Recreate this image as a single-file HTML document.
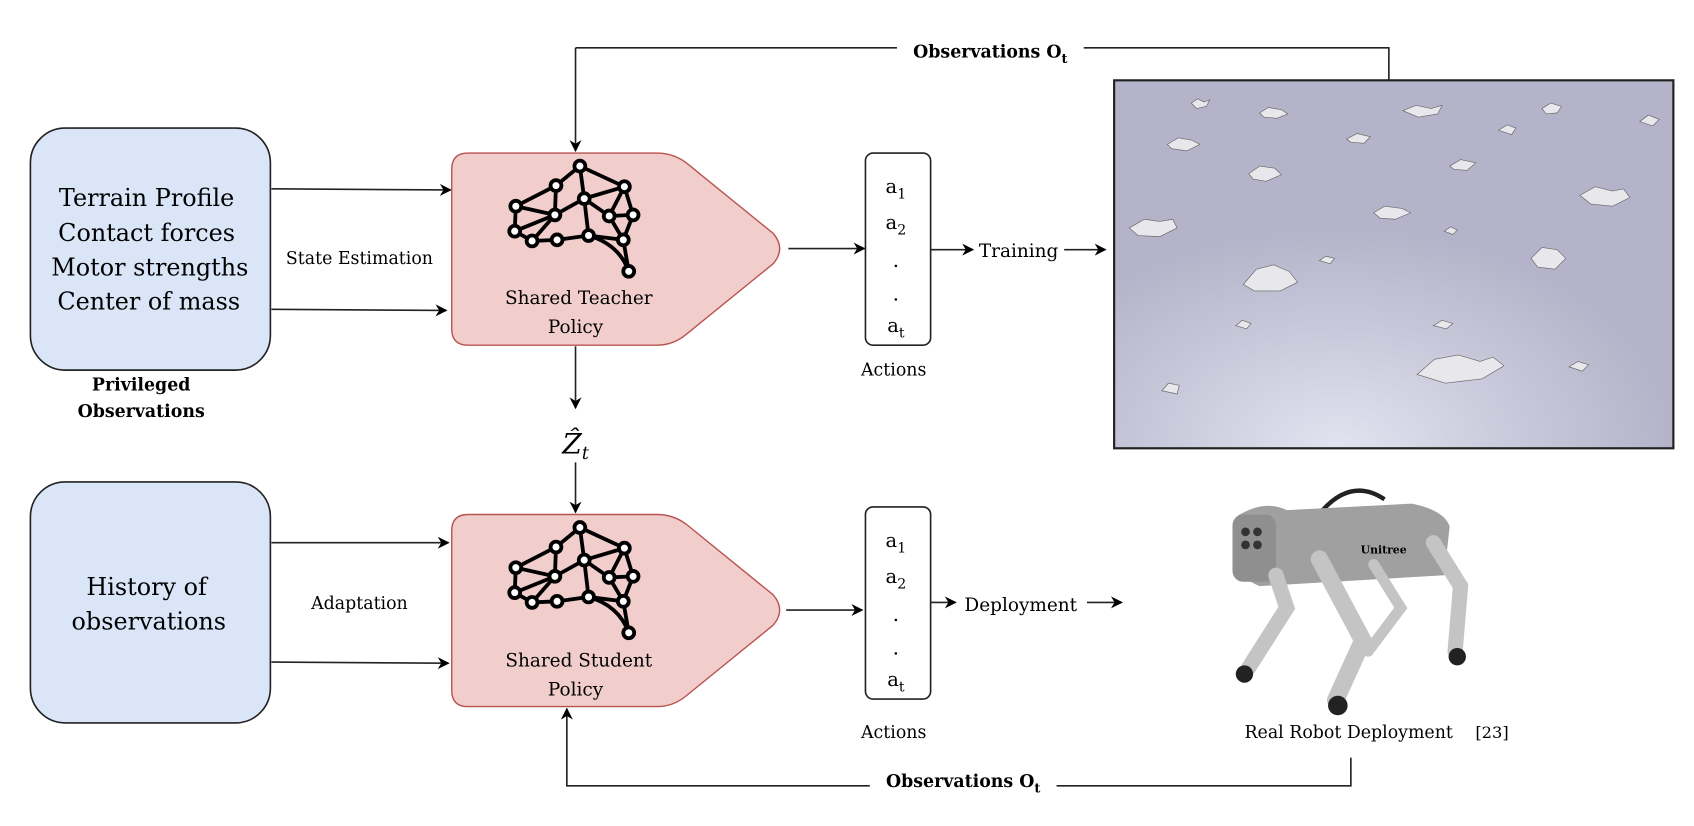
<!DOCTYPE html>
<html><head><meta charset="utf-8"><style>
html,body{margin:0;padding:0;background:#fff}
svg{display:block}
text{font-family:"DejaVu Serif","Liberation Serif",serif;fill:#000}
</style></head><body>
<svg width="1694" height="826" viewBox="0 0 1560 761" preserveAspectRatio="none" xmlns="http://www.w3.org/2000/svg">
<defs>
<marker id="ar" viewBox="0 0 10 10" refX="9" refY="5" markerWidth="12" markerHeight="11" orient="auto" markerUnits="userSpaceOnUse"><path d="M0,0 L10,5 L0,10 L3,5 z" fill="#000"/></marker>
<radialGradient id="tg" cx="0.4" cy="1" r="0.6"><stop offset="0" stop-color="#e2e2f0"/><stop offset="1" stop-color="#b4b3c9"/></radialGradient>
<g id="brain" fill="none" stroke="#000" stroke-width="3.5">
<path d="M534,153 L512,171 L475,190 L474,213 L490,222 L513,221 L542,217 L574,221 L579,250 M534,153 L538,183 L575,172 L583,198 L574,221 M512,171 L511,198 L475,190 M511,198 L538,183 L561,199 L575,172 M511,198 L474,213 M511,198 L490,222 M538,183 L542,217 M561,199 L583,198 M561,199 L574,221 M534,153 L575,172"/>
<path d="M542,217 Q570,225 579,250"/>
<g fill="#fff" stroke-width="3.5"><circle cx="534" cy="153" r="5"/><circle cx="512" cy="171" r="5"/><circle cx="475" cy="190" r="5"/><circle cx="538" cy="183" r="5"/><circle cx="575" cy="172" r="5"/><circle cx="511" cy="198" r="5"/><circle cx="561" cy="199" r="5"/><circle cx="583" cy="198" r="5"/><circle cx="474" cy="213" r="5"/><circle cx="490" cy="222" r="5"/><circle cx="513" cy="221" r="5"/><circle cx="542" cy="217" r="5"/><circle cx="574" cy="221" r="5"/><circle cx="579" cy="250" r="5"/></g>
</g>
</defs>

<rect x="28" y="118" width="221" height="223" rx="32" fill="#dae6f8" stroke="#222" stroke-width="1.5"/>
<g font-size="22" text-anchor="middle">
<text x="135" y="190">Terrain Profile</text>
<text x="135" y="222">Contact forces</text>
<text x="138" y="254">Motor strengths</text>
<text x="137" y="285">Center of mass</text>
</g>
<text x="130" y="360" font-size="16" font-weight="bold" text-anchor="middle">Privileged</text>
<text x="130" y="384" font-size="16" font-weight="bold" text-anchor="middle">Observations</text>

<rect x="28" y="444" width="221" height="222" rx="32" fill="#dae6f8" stroke="#222" stroke-width="1.5"/>
<text x="135" y="548" font-size="22" text-anchor="middle">History of</text>
<text x="137" y="580" font-size="22" text-anchor="middle">observations</text>

<g stroke="#222" stroke-width="1.5" fill="none" marker-end="url(#ar)">
<path d="M250,174 L415,175"/><path d="M250,285 L411,286"/>
<path d="M250,500 L413,500"/><path d="M250,610 L413,611"/>
</g>
<text x="331" y="243" font-size="16" text-anchor="middle">State Estimation</text>
<text x="331" y="561" font-size="16" text-anchor="middle">Adaptation</text>

<path d="M431,141 L605,141 Q620,141 632,150 L712,215 Q724,229 712,243 L632,308 Q620,318 605,318 L431,318 Q416,318 416,303 L416,156 Q416,141 431,141 Z" fill="#f1cecc" stroke="#b85450" stroke-width="1.3"/>
<path d="M431,474 L605,474 Q620,474 632,483 L712,548 Q724,562 712,576 L632,641 Q620,651 605,651 L431,651 Q416,651 416,636 L416,489 Q416,474 431,474 Z" fill="#f1cecc" stroke="#b85450" stroke-width="1.3"/>
<use href="#brain"/>
<use href="#brain" y="333"/>
<text x="533" y="280" font-size="17" text-anchor="middle">Shared Teacher</text>
<text x="530" y="307" font-size="17" text-anchor="middle">Policy</text>
<text x="533" y="614" font-size="17" text-anchor="middle">Shared Student</text>
<text x="530" y="641" font-size="17" text-anchor="middle">Policy</text>

<g stroke="#222" stroke-width="1.5" fill="none" marker-end="url(#ar)">
<path d="M530,319 L530,376"/><path d="M530,426 L530,472"/>
<path d="M530,44 L530,139"/>
<path d="M726,229 L796,229"/><path d="M724,562 L794,562"/>
<path d="M857,230 L896,230"/><path d="M980,230 L1018,230"/>
<path d="M857,555 L880,555"/><path d="M1001,555 L1033,555"/>
<path d="M1244,698 L1244,724 L522,724 L522,653"/>
</g>
<path d="M530,44 L1279,44 L1279,74" stroke="#222" stroke-width="1.5" fill="none"/>
<rect x="826" y="34" width="172" height="22" fill="#fff"/>
<text x="912" y="53" font-size="16" font-weight="bold" text-anchor="middle">Observations O<tspan font-size="12" dy="5">t</tspan></text>
<rect x="801" y="712" width="172" height="22" fill="#fff"/>
<text x="887" y="725" font-size="16" font-weight="bold" text-anchor="middle">Observations O<tspan font-size="12" dy="5">t</tspan></text>

<text x="530" y="418" font-size="26" font-style="italic" text-anchor="middle" fill="#555" font-family="Liberation Serif,serif">Ẑ<tspan font-size="16" dy="5">t</tspan></text>

<rect x="797" y="141" width="60" height="177" rx="7" fill="#fff" stroke="#222" stroke-width="1.5"/>
<g font-size="18" text-anchor="middle">
<text x="825" y="178">a<tspan font-size="13" dy="5">1</tspan></text>
<text x="825" y="211">a<tspan font-size="13" dy="5">2</tspan></text>
<text x="825" y="246">.</text><text x="825" y="277">.</text>
<text x="825" y="306">a<tspan font-size="13" dy="5">t</tspan></text>
</g>
<text x="823" y="346" font-size="16" text-anchor="middle">Actions</text>
<rect x="797" y="467" width="60" height="177" rx="7" fill="#fff" stroke="#222" stroke-width="1.5"/>
<g font-size="18" text-anchor="middle">
<text x="825" y="504">a<tspan font-size="13" dy="5">1</tspan></text>
<text x="825" y="537">a<tspan font-size="13" dy="5">2</tspan></text>
<text x="825" y="572">.</text><text x="825" y="603">.</text>
<text x="825" y="632">a<tspan font-size="13" dy="5">t</tspan></text>
</g>
<text x="823" y="680" font-size="16" text-anchor="middle">Actions</text>

<text x="938" y="237" font-size="17" text-anchor="middle">Training</text>
<text x="940" y="563" font-size="17" text-anchor="middle">Deployment</text>

<rect x="1026" y="74" width="515" height="339" fill="url(#tg)" stroke="#222" stroke-width="2"/>
<g fill="#e8e8ec" stroke="#666" stroke-width="0.6">
<path d="M1097,95 l6,-4 l6,3 l5,-2 l-3,6 l-9,2 z"/><path d="M1160,104 l8,-5 l12,2 l6,4 l-10,4 l-12,-1 z"/><path d="M1292,102 l12,-5 l14,3 l10,-3 l-4,8 l-18,3 z"/><path d="M1420,100 l8,-5 l10,3 l-4,6 l-10,1 z"/><path d="M1510,112 l8,-6 l10,4 l-6,6 z"/>
<path d="M1075,133 l10,-6 l12,2 l8,4 l-12,6 l-14,-2 z"/><path d="M1150,160 l10,-7 l14,2 l6,6 l-14,6 l-12,-2 z"/><path d="M1240,128 l10,-5 l12,3 l-6,6 l-12,-1 z"/><path d="M1380,120 l8,-5 l8,3 l-4,6 z"/><path d="M1335,153 l10,-6 l14,3 l-8,7 l-12,-1 z"/>
<path d="M1455,180 l14,-8 l16,4 l10,-2 l6,8 l-16,8 l-20,-2 z"/><path d="M1040,210 l14,-8 l14,2 l12,-2 l4,8 l-16,8 l-20,-1 z"/><path d="M1265,196 l10,-6 l16,2 l8,4 l-14,6 l-14,-1 z"/>
<path d="M1410,238 l10,-10 l14,2 l8,8 l-10,10 l-16,-2 z"/><path d="M1145,262 l12,-14 l16,-4 l14,6 l8,10 l-16,8 l-24,0 z"/><path d="M1215,240 l6,-4 l8,2 l-4,5 z"/><path d="M1138,300 l6,-5 l8,3 l-4,5 z"/><path d="M1320,300 l8,-5 l10,3 l-6,5 z"/>
<path d="M1305,345 l16,-14 l22,-4 l20,6 l12,-4 l10,8 l-20,12 l-34,4 z"/><path d="M1445,338 l8,-5 l10,3 l-6,6 z"/><path d="M1070,360 l6,-7 l10,2 l-2,8 z"/><path d="M1330,213 l6,-4 l6,3 l-4,4 z"/>
</g>

<g>
<path d="M1218,470 Q1245,440 1275,460" stroke="#222" stroke-width="4" fill="none"/>
<path d="M1140,475 Q1165,460 1185,470 L1300,464 Q1330,470 1335,485 L1330,530 L1160,540 Q1135,530 1135,505 Z" fill="#a0a0a0"/>
<rect x="1135" y="474" width="40" height="62" rx="10" fill="#8f8f8f"/>
<g fill="#333"><circle cx="1147" cy="490" r="4"/><circle cx="1158" cy="490" r="4"/><circle cx="1147" cy="502" r="4"/><circle cx="1158" cy="502" r="4"/></g>
<text x="1253" y="510" font-size="10" fill="#eee" font-family="Liberation Sans,sans-serif" font-weight="bold">Unitree</text>
<g stroke="#c4c4c4" stroke-linecap="round" fill="none">
<path d="M1175,530 L1185,560 L1150,615" stroke-width="14"/>
<path d="M1215,515 L1255,590 L1230,645" stroke-width="16"/>
<path d="M1265,520 L1290,560 L1260,600" stroke-width="10"/>
<path d="M1320,500 L1345,540 L1340,600" stroke-width="14"/>
</g>
<g fill="#222"><circle cx="1146" cy="621" r="8"/><circle cx="1232" cy="650" r="9"/><circle cx="1342" cy="605" r="8"/></g>
</g>
<text x="1242" y="680" font-size="16" text-anchor="middle">Real Robot Deployment</text>
<text x="1374" y="680" font-size="15" font-family="Liberation Sans,sans-serif" text-anchor="middle">[23]</text>
</svg>
</body></html>
